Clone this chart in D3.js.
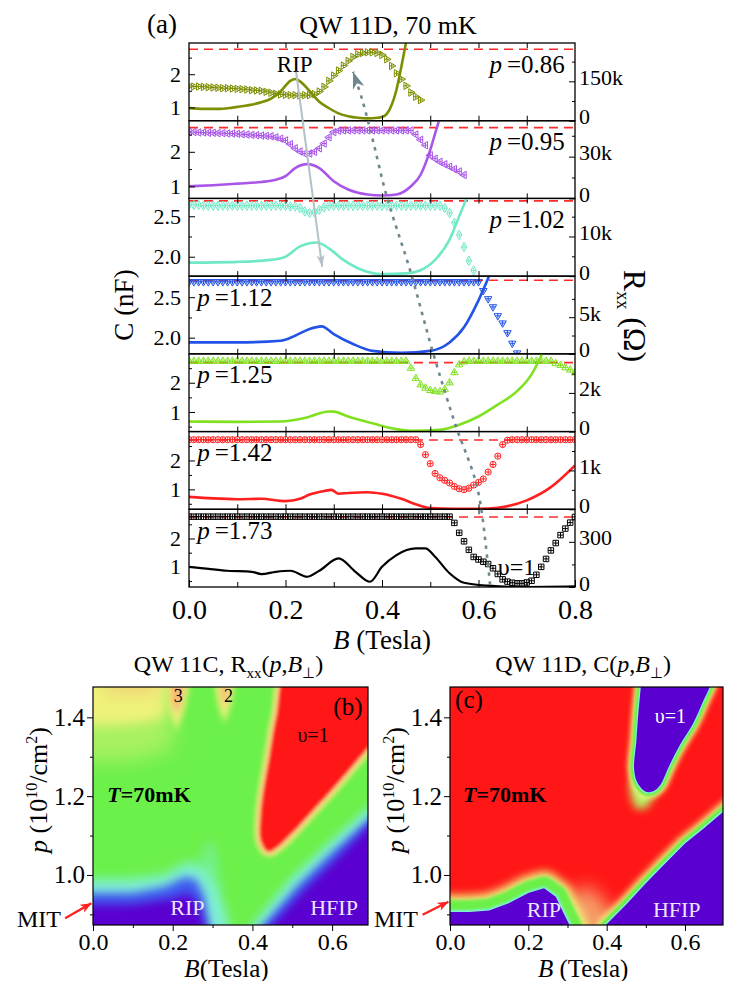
<!DOCTYPE html>
<html>
<head>
<meta charset="utf-8">
<script src="https://cdn.jsdelivr.net/npm/d3@7/dist/d3.min.js"></script>
<style>
  body { margin: 0; background: #fff; }
  svg text { font-family: "Liberation Serif", "Times New Roman", serif; }
</style>
</head>
<body>
<script>
var svgWidth = 731;
var svgHeight = 981;
var serif = "Liberation Serif";

// ---------------- panel (a) data ----------------
var pLabels = ["0.86", "0.95", "1.02", "1.12", "1.25", "1.42", "1.73"];
var colors = ["#7d8e00", "#a855e8", "#6fe8c6", "#2353e6", "#7fe11f", "#ff1f1f", "#000000"];
var symKinds = ["right", "left", "diamond", "down", "up", "circle", "square"];

// left axis C (nF), right axis Rxx (Ohm or kOhm)
var cRange = [[0.6, 2.94], [0.65, 2.9], [1.76, 2.72], [1.80, 2.76], [0.33, 2.99], [0.31, 3.0], [0.29, 3.03]];
var cTicks = [[1, 2], [1, 2], [2.0, 2.5], [2.0, 2.5], [1, 2], [1, 2], [1, 2]];
var cMinor = [[1.5, 2.5], [1.5, 2.5], [2.25], [2.25], [0.5, 1.5, 2.5], [0.5, 1.5, 2.5], [0.5, 1.5, 2.5]];
var cFormat = ["d", "d", ".1f", ".1f", "d", "d", "d"];
var cGeo = [2.75, 2.70, 2.69, 2.71, 2.69, 2.71, 2.76];
var rTop = [296, 55.8, 19.6, 10.6, 4.02, 2.0, 516];
var rTick = [150, 30, 10, 5, 2, 1, 300];
var rTickText = ["150k", "30k", "10k", "5k", "2k", "1k", "300"];
var rMinor = [[75, 225], [15, 45], [5, 15], [2.5, 7.5], [1, 3], [0.5, 1.5], [150, 450]];

// capacitance, one point every 0.01 T starting at B = 0
var cStepB = 0.01;
var c086 = [1.64, 1.63, 1.63, 1.62, 1.61, 1.60, 1.59, 1.58, 1.58, 1.57, 1.56, 1.55, 1.54, 1.52, 1.51, 1.50,
  1.47, 1.44, 1.41, 1.39, 1.38, 1.37, 1.37, 1.36, 1.37, 1.37, 1.40, 1.48, 1.62, 1.80, 1.96, 2.11, 2.26,
  2.40, 2.52, 2.60, 2.64, 2.66, 2.66, 2.64, 2.58, 2.45, 2.25, 2.03, 1.85, 1.65, 1.45, 1.32, 1.22];
var c095 = [2.57, 2.57, 2.56, 2.56, 2.55, 2.55, 2.54, 2.54, 2.53, 2.53, 2.52, 2.51, 2.50, 2.49, 2.48, 2.47,
  2.46, 2.45, 2.42, 2.38, 2.33, 2.22, 2.10, 2.01, 1.95, 1.95, 2.00, 2.10, 2.24, 2.42, 2.57, 2.61,
  2.62, 2.62, 2.62, 2.62, 2.62, 2.62, 2.62, 2.62, 2.62, 2.62, 2.62, 2.62, 2.62, 2.62, 2.62,
  2.50, 2.35, 2.19, 1.90, 1.80, 1.71, 1.64, 1.57, 1.50, 1.43, 1.33];
var c102 = [2.64, 2.64, 2.64, 2.63, 2.63, 2.63, 2.63, 2.63, 2.63, 2.63, 2.63, 2.63, 2.63, 2.63, 2.63, 2.63,
  2.63, 2.63, 2.63, 2.63, 2.63, 2.62, 2.62, 2.60, 2.56, 2.54, 2.55, 2.58, 2.61, 2.63,
  2.63, 2.63, 2.63, 2.63, 2.63, 2.63, 2.63, 2.63, 2.63, 2.63, 2.63, 2.63, 2.63, 2.63, 2.63, 2.63,
  2.63, 2.63, 2.63, 2.63, 2.63, 2.63, 2.63, 2.60, 2.54, 2.42, 2.27, 2.12, 1.95, 1.83];
var c112 = [2.69, 2.69, 2.69, 2.69, 2.69, 2.69, 2.69, 2.69, 2.69, 2.69, 2.69, 2.69, 2.69, 2.69, 2.69, 2.69,
  2.69, 2.69, 2.69, 2.69, 2.69, 2.69, 2.69, 2.69, 2.69, 2.69, 2.69, 2.69, 2.69, 2.69, 2.69, 2.69,
  2.69, 2.69, 2.69, 2.69, 2.69, 2.69, 2.69, 2.69, 2.69, 2.69, 2.69, 2.69, 2.69, 2.69, 2.69, 2.69,
  2.69, 2.69, 2.69, 2.69, 2.69, 2.69, 2.69, 2.69, 2.69, 2.69, 2.69, 2.69, 2.69,
  2.58, 2.48, 2.38, 2.27, 2.18, 2.06, 1.93, 1.81];
var c125 = [2.74, 2.74, 2.74, 2.74, 2.74, 2.74, 2.74, 2.74, 2.74, 2.74, 2.74, 2.74, 2.74, 2.74, 2.74, 2.74,
  2.74, 2.74, 2.74, 2.74, 2.74, 2.74, 2.74, 2.74, 2.74, 2.74, 2.74, 2.74, 2.74, 2.74, 2.74, 2.74,
  2.74, 2.74, 2.74, 2.74, 2.74, 2.74, 2.74, 2.74, 2.74, 2.74, 2.74, 2.74, 2.74, 2.74,
  2.50, 2.15, 1.93, 1.82, 1.74, 1.71, 1.69, 1.77, 2.00, 2.35, 2.62, 2.72,
  2.74, 2.74, 2.74, 2.74, 2.74, 2.74, 2.74, 2.74, 2.74, 2.74, 2.74, 2.74, 2.74, 2.74, 2.74, 2.74, 2.74, 2.74,
  2.66, 2.60, 2.52, 2.44, 2.34];
var c142 = [2.72, 2.72, 2.72, 2.72, 2.72, 2.72, 2.72, 2.72, 2.72, 2.72, 2.72, 2.72, 2.72, 2.72, 2.72, 2.72,
  2.72, 2.72, 2.72, 2.72, 2.72, 2.72, 2.72, 2.72, 2.72, 2.72, 2.72, 2.72, 2.72, 2.72, 2.72, 2.72,
  2.72, 2.72, 2.72, 2.72, 2.72, 2.72, 2.72, 2.72, 2.72, 2.72, 2.72, 2.72, 2.72, 2.72, 2.72, 2.72,
  2.55, 2.20, 1.89, 1.55, 1.40, 1.31, 1.22, 1.10, 1.02, 0.99, 1.04, 1.15, 1.24, 1.36, 1.60, 1.86,
  2.15, 2.55, 2.70, 2.72, 2.72, 2.72, 2.72, 2.72, 2.72, 2.72, 2.72, 2.72, 2.72, 2.72, 2.72, 2.72, 2.72];
var c173 = [2.77, 2.77, 2.77, 2.77, 2.77, 2.77, 2.77, 2.77, 2.77, 2.77, 2.77, 2.77, 2.77, 2.77, 2.77, 2.77,
  2.77, 2.77, 2.77, 2.77, 2.77, 2.77, 2.77, 2.77, 2.77, 2.77, 2.77, 2.77, 2.77, 2.77, 2.77, 2.77,
  2.77, 2.77, 2.77, 2.77, 2.77, 2.77, 2.77, 2.77, 2.77, 2.77, 2.77, 2.77, 2.77, 2.77, 2.77, 2.77,
  2.77, 2.77, 2.77, 2.77, 2.77, 2.77, 2.77,
  2.55, 2.20, 1.90, 1.60, 1.35, 1.26, 1.18, 1.10, 0.95, 0.75, 0.56, 0.48, 0.44, 0.42, 0.42, 0.45,
  0.51, 0.72, 1.00, 1.28, 1.58, 1.84, 2.12, 2.35, 2.56, 2.76];
var cSeries = [c086, c095, c102, c112, c125, c142, c173];

// Rxx traces
var rB086 = [0, 0.03, 0.06, 0.09, 0.12, 0.15, 0.17, 0.19, 0.21, 0.22, 0.23, 0.25, 0.27, 0.29, 0.31, 0.33, 0.35, 0.37, 0.39, 0.40, 0.41, 0.42, 0.43, 0.44, 0.45, 0.46];
var r086 = [48, 45, 45, 50, 58, 70, 84, 112, 152, 159, 150, 113, 72, 48, 28, 17, 11, 9, 11, 14, 26, 60, 118, 205, 300, 400];
var rB095 = [0, 0.05, 0.1, 0.15, 0.18, 0.2, 0.22, 0.245, 0.27, 0.3, 0.33, 0.37, 0.4, 0.43, 0.46, 0.48, 0.5, 0.51, 0.52];
var r095 = [8.7, 9.5, 10.6, 11.8, 13.5, 16, 21.8, 24.6, 21.8, 12.3, 6.4, 2.8, 2.1, 2.8, 8.7, 17, 34.8, 46.6, 58];
var rB102 = [0, 0.1, 0.17, 0.2, 0.23, 0.265, 0.29, 0.32, 0.35, 0.4, 0.45, 0.48, 0.51, 0.54, 0.56, 0.575, 0.58];
var r102 = [3.4, 3.6, 4.1, 4.9, 7.5, 8.5, 7.0, 4.1, 2.0, 0.5, 0.7, 1.5, 4.1, 9.2, 15.1, 19.8, 22];
var rB112 = [0, 0.1, 0.19, 0.22, 0.25, 0.275, 0.3, 0.34, 0.38, 0.44, 0.5, 0.54, 0.57, 0.6, 0.62, 0.63];
var r112 = [1.56, 1.56, 1.79, 2.48, 3.4, 3.75, 2.7, 1.34, 0.41, 0.14, 0.41, 1.56, 3.63, 7.3, 10.3, 12];
var rB125 = [0, 0.1, 0.19, 0.24, 0.29, 0.3, 0.33, 0.38, 0.42, 0.46, 0.52, 0.56, 0.6, 0.64, 0.68, 0.71, 0.73, 0.74];
var r125 = [0.52, 0.5, 0.52, 0.7, 1.04, 1.03, 0.78, 0.43, 0.17, 0.04, 0.09, 0.35, 0.78, 1.39, 2.09, 2.96, 3.92, 4.5];
var rB142 = [0, 0.05, 0.1, 0.15, 0.2, 0.23, 0.25, 0.28, 0.295, 0.31, 0.33, 0.37, 0.4, 0.44, 0.47, 0.5, 0.55, 0.6, 0.64, 0.7, 0.75, 0.8];
var r142 = [0.32, 0.28, 0.26, 0.27, 0.21, 0.27, 0.38, 0.47, 0.5, 0.4, 0.42, 0.44, 0.4, 0.27, 0.13, 0.03, 0.01, 0.01, 0.04, 0.23, 0.57, 1.13];
var rB173 = [0, 0.03, 0.08, 0.13, 0.15, 0.18, 0.21, 0.245, 0.27, 0.31, 0.345, 0.375, 0.4, 0.43, 0.47, 0.49, 0.51, 0.54, 0.57, 0.62, 0.7, 0.8];
var r173 = [134, 124, 108, 101, 86, 101, 108, 68, 108, 190, 101, 35, 134, 212, 256, 256, 201, 91, 28, 9, 0, 4];
var rBSeries = [rB086, rB095, rB102, rB112, rB125, rB142, rB173];
var rSeries = [r086, r095, r102, r112, r125, r142, r173];

// guide arrows, B and position in the stack of panels (0 = top of first panel)
var ripArrowB = [0.222, 0.276];
var ripArrowS = [0.37, 2.88];
var nuArrowB = [0.624, 0.618, 0.597, 0.551, 0.506, 0.458, 0.410, 0.381, 0.359, 0.340];
var nuArrowS = [6.97, 6.62, 5.71, 4.89, 3.99, 2.92, 1.98, 1.25, 0.73, 0.37];

// ---------------- panels (b), (c): level regions (B, p) ----------------
var bHazeB = [-0.1, 0.2, 0.2, 0.1, -0.1], bHazeP = [1.55, 1.55, 1.32, 1.29, 1.29];
var bYellowB = [-0.1, 0.185, 0.18, 0.12, 0.05, -0.1], bYellowP = [1.55, 1.55, 1.40, 1.385, 1.38, 1.38];
var bTintB = [0.02, 0.17, 0.16, 0.03], bTintP = [1.55, 1.55, 1.455, 1.455];
var bLobe3YB = [0.175, 0.255, 0.228, 0.21, 0.192], bLobe3YP = [1.55, 1.55, 1.42, 1.365, 1.42];
var bLobe3OB = [0.19, 0.24, 0.222, 0.21, 0.198], bLobe3OP = [1.55, 1.55, 1.44, 1.405, 1.44];
var bLobe2YB = [0.295, 0.365, 0.345, 0.33, 0.315], bLobe2YP = [1.55, 1.55, 1.43, 1.385, 1.43];
var bLobe2OB = [0.31, 0.352, 0.338, 0.33, 0.322], bLobe2OP = [1.55, 1.55, 1.45, 1.42, 1.45];
var bColB = [0.265, 0.28, 0.305, 0.32, 0.31], bColP = [0.97, 1.08, 1.08, 0.95, 0.9];
var bRipCB = [-0.1, -0.1, 0.1, 0.18, 0.23, 0.265, 0.3, 0.335, 0.35], bRipCP = [0.82, 0.99, 0.99, 1.0, 1.03, 1.03, 0.98, 0.9, 0.82];
var bRipBB = [-0.1, -0.1, 0.1, 0.18, 0.23, 0.258, 0.278, 0.3], bRipBP = [0.82, 0.955, 0.955, 0.97, 0.995, 0.99, 0.95, 0.82];
var bRipPB = [-0.1, -0.1, 0.1, 0.2, 0.24, 0.262, 0.295], bRipPP = [0.82, 0.925, 0.925, 0.94, 0.955, 0.93, 0.82];
var bHfCB = [0.355, 0.5, 0.59, 0.69, 0.8, 0.8], bHfCP = [0.82, 0.995, 1.08, 1.17, 1.25, 0.82];
var bHfBB = [0.38, 0.515, 0.6, 0.69, 0.8, 0.8], bHfBP = [0.82, 0.975, 1.058, 1.14, 1.22, 0.82];
var bHfPB = [0.40, 0.53, 0.61, 0.69, 0.8, 0.8], bHfPP = [0.82, 0.962, 1.04, 1.122, 1.2, 0.82];
var bRedB = [0.503, 0.462, 0.445, 0.428, 0.423, 0.423, 0.44, 0.46, 0.5, 0.55, 0.6, 0.69, 0.8, 0.8];
var bRedP = [1.55, 1.4, 1.3, 1.2, 1.15, 1.09, 1.062, 1.072, 1.11, 1.165, 1.22, 1.326, 1.45, 1.55];

var cGlowB = [0.26, 0.305, 0.35, 0.4, 0.46], cGlowP = [0.82, 0.95, 0.975, 0.93, 0.82];
var cRipB = [-0.1, -0.1, 0.05, 0.1, 0.15, 0.2, 0.24, 0.27, 0.29, 0.305, 0.33];
var cRipP = [0.8, 0.906, 0.906, 0.91, 0.928, 0.954, 0.966, 0.945, 0.903, 0.873, 0.8];
var cHfB = [0.37, 0.398, 0.45, 0.5, 0.55, 0.6, 0.65, 0.697, 0.8, 0.8];
var cHfP = [0.8, 0.873, 0.925, 0.979, 1.03, 1.08, 1.12, 1.16, 1.25, 0.8];
var cNuBlobB = [0.462, 0.475, 0.5, 0.52, 0.5], cNuBlobP = [1.24, 1.17, 1.17, 1.21, 1.23];
var cNuB = [0.495, 0.489, 0.48, 0.476, 0.47, 0.478, 0.5, 0.52, 0.536, 0.561, 0.587, 0.621, 0.646, 0.672, 0.69, 0.6];
var cNuP = [1.6, 1.5, 1.4, 1.342, 1.27, 1.235, 1.211, 1.213, 1.227, 1.28, 1.33, 1.385, 1.44, 1.5, 1.6, 1.65];

var pTicks = [1.0, 1.2, 1.4], pMinor = [0.9, 1.1, 1.3];
var bTicks = [0, 0.2, 0.4, 0.6], bMinor = [0.1, 0.3, 0.5];

// ---------------- drawing ----------------
var svg = d3.select("body").append("svg")
    .attr("width", svgWidth)
    .attr("height", svgHeight);
var defs = svg.append("defs");

var heatColor = d3.scaleLinear()
    .domain([0, 0.2, 0.38, 0.55, 0.72, 0.86, 1])
    .range(["#5a06d0", "#3c5cf0", "#80f0d8", "#6cf04a", "#eef27a", "#f4b474", "#ff1616"]);

function blur(s) {
    var id = "blur" + String(s).replace(".", "_");
    if (defs.select("#" + id).empty()) {
        defs.append("filter").attr("id", id)
            .attr("filterUnits", "userSpaceOnUse")
            .attr("x", 0).attr("y", 600).attr("width", svgWidth).attr("height", 381)
            .append("feGaussianBlur").attr("stdDeviation", s);
    }
    return "url(#" + id + ")";
}

function marker(id, color, w, h) {
    defs.append("marker").attr("id", id)
        .attr("viewBox", "0 0 " + w + " " + h)
        .attr("refX", w).attr("refY", h / 2)
        .attr("markerWidth", w).attr("markerHeight", h)
        .attr("markerUnits", "userSpaceOnUse")
        .attr("orient", "auto")
        .append("path")
        .attr("d", "M0,0L" + w + "," + (h / 2) + "L0," + h + "L" + (w * 0.28) + "," + (h / 2) + "Z")
        .attr("fill", color);
}
marker("headGrey", "#6f8790", 17, 12);
marker("headLight", "#b4c2c8", 12, 8);
marker("headRed", "#ff2020", 11, 9);

function tidy(sel, size) {
    sel.select(".domain").remove();
    sel.attr("font-family", serif).attr("font-size", size);
    sel.selectAll("line").attr("stroke", "#000").attr("stroke-width", 1);
    sel.selectAll("text").attr("fill", "#000");
    return sel;
}

// ----- panel (a) -----
var xA = d3.scaleLinear().domain([0, 0.8]).range([189, 575]);
var stackY = d3.scaleLinear().domain([0, 7]).range([43, 587]);

var shapes = {
    right: [d3.symbolTriangle, 90, 24], left: [d3.symbolTriangle, -90, 24],
    down: [d3.symbolTriangle, 180, 24], up: [d3.symbolTriangle, 0, 24],
    diamond: [d3.symbolDiamond, 0, 26], circle: [d3.symbolCircle, 0, 30], square: [d3.symbolSquare, 0, 30]
};

pLabels.forEach(function(pl, i) {
    var top = stackY(i), bot = stackY(i + 1);
    var yC = d3.scaleLinear().domain(cRange[i]).range([bot, top]);
    var yR = d3.scaleLinear().domain([0, rTop[i]]).range([bot, top]);

    defs.append("clipPath").attr("id", "clipA" + i)
        .append("rect")
        .attr("x", xA(0)).attr("y", top)
        .attr("width", xA(0.8) - xA(0)).attr("height", bot - top);

    var inner = svg.append("g").attr("clip-path", "url(#clipA" + i + ")");

    // geometric capacitance level
    inner.append("line")
        .attr("x1", xA(0)).attr("x2", xA(0.8))
        .attr("y1", yC(cGeo[i])).attr("y2", yC(cGeo[i]))
        .attr("stroke", "#ff2a2a").attr("stroke-width", 1.6)
        .attr("stroke-dasharray", "9,6");

    // Rxx trace
    inner.append("path")
        .datum(d3.zip(rBSeries[i], rSeries[i]))
        .attr("d", d3.line()
            .x(d => xA(d[0]))
            .y(d => yR(d[1]))
            .curve(d3.curveMonotoneX))
        .attr("fill", "none")
        .attr("stroke", colors[i])
        .attr("stroke-width", i === 6 ? 2.2 : 2.6);

    // C symbols
    var sh = shapes[symKinds[i]];
    var symD = d3.symbol().type(sh[0]).size(sh[2])();
    var pts = inner.selectAll("g.pt")
        .data(cSeries[i])
        .enter()
        .append("g")
        .attr("transform", (d, k) => `translate(${xA(k * cStepB)},${yC(d)}) rotate(${sh[1]})`);
    pts.append("path").attr("d", symD)
        .attr("fill", "none").attr("stroke", colors[i]).attr("stroke-width", 1);
    pts.append("path").attr("d", "M-2.5,0H2.5M0,-2.5V2.5")
        .attr("stroke", colors[i]).attr("stroke-width", 1);

    // frame and axes
    svg.append("rect")
        .attr("x", xA(0)).attr("y", top)
        .attr("width", xA(0.8) - xA(0)).attr("height", bot - top)
        .attr("fill", "none").attr("stroke", "#000").attr("stroke-width", 1.3);

    tidy(svg.append("g").attr("transform", `translate(${xA(0)},0)`)
        .call(d3.axisLeft(yC).tickValues(cTicks[i]).tickSize(-6).tickPadding(8)
            .tickFormat(d3.format(cFormat[i]))), 22);
    tidy(svg.append("g").attr("transform", `translate(${xA(0)},0)`)
        .call(d3.axisLeft(yC).tickValues(cMinor[i].filter(v => v > cRange[i][0] && v < cRange[i][1]))
            .tickSize(-3).tickFormat("")), 22);
    var ra = tidy(svg.append("g").attr("transform", `translate(${xA(0.8)},0)`)
        .call(d3.axisRight(yR).tickValues([0, rTick[i]]).tickSize(-6).tickPadding(4)
            .tickFormat(d => d === 0 ? "0" : rTickText[i])), 22);
    ra.selectAll("text").attr("y", -4);
    tidy(svg.append("g").attr("transform", `translate(${xA(0.8)},0)`)
        .call(d3.axisRight(yR).tickValues(rMinor[i].filter(v => v < rTop[i]))
            .tickSize(-3).tickFormat("")), 22);
    tidy(svg.append("g").attr("transform", `translate(0,${top})`)
        .call(d3.axisTop(xA).tickValues(d3.range(1, 8).map(k => k / 10)).tickSize(-5).tickFormat("")), 22);
    if (i < 6) {
        tidy(svg.append("g").attr("transform", `translate(0,${bot})`)
            .call(d3.axisBottom(xA).tickValues(d3.range(1, 8).map(k => k / 10)).tickSize(-5).tickFormat("")), 22);
    } else {
        tidy(svg.append("g").attr("transform", `translate(0,${bot})`)
            .call(d3.axisBottom(xA).tickValues([0, 0.2, 0.4, 0.6, 0.8]).tickSize(-7).tickPadding(12)
                .tickFormat(d3.format(".1f"))), 28);
        tidy(svg.append("g").attr("transform", `translate(0,${bot})`)
            .call(d3.axisBottom(xA).tickValues([0.1, 0.3, 0.5, 0.7]).tickSize(-5).tickFormat("")), 28);
    }

    // density label
    var right = i < 3;
    var t = svg.append("text")
        .attr("x", right ? xA(0.779) : xA(0.017))
        .attr("y", stackY(i + 0.38))
        .attr("text-anchor", right ? "end" : "start")
        .attr("font-size", 25);
    t.append("tspan").attr("font-style", "italic").text("p");
    t.append("tspan").text("\u2009=" + pl);
});

// panel (a) labels
svg.append("text").attr("x", 147).attr("y", 33).attr("font-size", 27).text("(a)");
svg.append("text").attr("x", 388).attr("y", 34).attr("font-size", 26)
    .attr("text-anchor", "middle").text("QW 11D, 70 mK");
svg.append("text").attr("x", xA(0.182)).attr("y", stackY(0.37)).attr("font-size", 23).text("RIP");
svg.append("text").attr("x", xA(0.64)).attr("y", stackY(6.84)).attr("font-size", 24).text("\u03c5=1");

svg.append("text")
    .attr("transform", "translate(133,305) rotate(-90)")
    .attr("text-anchor", "middle").attr("font-size", 27)
    .text("C (nF)");
var rl = svg.append("text")
    .attr("transform", "translate(624,316) rotate(90)")
    .attr("text-anchor", "middle").attr("font-size", 32);
rl.append("tspan").text("R");
rl.append("tspan").attr("font-size", 18).attr("dy", 7).text("xx");
rl.append("tspan").attr("dy", -7).text(" (\u03a9)");

var bl = svg.append("text").attr("x", 382).attr("y", 649)
    .attr("text-anchor", "middle").attr("font-size", 27);
bl.append("tspan").attr("font-style", "italic").text("B");
bl.append("tspan").text(" (Tesla)");

// guide arrows
var stackLine = d3.line().x(d => xA(d[0])).y(d => stackY(d[1]));
svg.append("path")
    .datum(d3.zip(ripArrowB, ripArrowS))
    .attr("d", stackLine)
    .attr("fill", "none").attr("stroke", "#b4c2c8").attr("stroke-width", 2)
    .attr("marker-end", "url(#headLight)");
svg.append("path")
    .datum(d3.zip(nuArrowB, nuArrowS))
    .attr("d", stackLine.curve(d3.curveCatmullRom))
    .attr("fill", "none").attr("stroke", "#6f8790").attr("stroke-width", 2.6)
    .attr("stroke-dasharray", "3.5,5.5")
    .attr("marker-end", "url(#headGrey)");

// ----- panels (b) and (c) -----
function heatPanel(cfg) {
    var x = d3.scaleLinear().domain(cfg.bDom).range([cfg.x0, cfg.x1]);
    var y = d3.scaleLinear().domain([0.873, 1.477]).range([925, 687]);
    var id = "clip" + cfg.name;
    defs.append("clipPath").attr("id", id).append("rect")
        .attr("x", cfg.x0).attr("y", 687).attr("width", cfg.x1 - cfg.x0).attr("height", 238);
    var g = svg.append("g").attr("clip-path", "url(#" + id + ")");
    g.append("rect")
        .attr("x", cfg.x0 - 5).attr("y", 680).attr("width", cfg.x1 - cfg.x0 + 10).attr("height", 250)
        .attr("fill", heatColor(cfg.bgLevel));

    cfg.layers.forEach(function(L) {
        var line = d3.line().x(d => x(d[0])).y(d => y(d[1]))
            .curve(L.smooth ? d3.curveCatmullRomClosed.alpha(0.5) : d3.curveLinearClosed);
        var d = line(d3.zip(L.b, L.p));
        (L.halo || []).forEach(function(h) {
            g.append("path").attr("d", d)
                .attr("fill", "none")
                .attr("stroke", heatColor(h[0])).attr("stroke-width", h[1])
                .attr("stroke-linejoin", "round")
                .attr("filter", blur(h[2]));
        });
        g.append("path").attr("d", d)
            .attr("fill", heatColor(L.level))
            .attr("opacity", L.op || 1)
            .attr("filter", blur(L.blur));
    });

    svg.append("rect")
        .attr("x", cfg.x0).attr("y", 687).attr("width", cfg.x1 - cfg.x0).attr("height", 238)
        .attr("fill", "none").attr("stroke", "#000").attr("stroke-width", 1.2);

    tidy(svg.append("g").attr("transform", `translate(${cfg.x0},0)`)
        .call(d3.axisLeft(y).tickValues(pTicks).tickSize(6).tickPadding(2).tickFormat(d3.format(".1f"))), 25);
    tidy(svg.append("g").attr("transform", `translate(${cfg.x0},0)`)
        .call(d3.axisLeft(y).tickValues(pMinor).tickSize(3).tickFormat("")), 25);
    tidy(svg.append("g").attr("transform", "translate(0,925)")
        .call(d3.axisBottom(x).tickValues(bTicks).tickSize(6).tickPadding(2).tickFormat(d3.format(".1f"))), 24);
    tidy(svg.append("g").attr("transform", "translate(0,925)")
        .call(d3.axisBottom(x).tickValues(bMinor).tickSize(3).tickFormat("")), 24);

    // axis titles
    var yl = svg.append("text")
        .attr("transform", `translate(${cfg.x0 - 46},790) rotate(-90)`)
        .attr("text-anchor", "middle").attr("font-size", 26);
    yl.append("tspan").attr("font-style", "italic").text("p");
    yl.append("tspan").text(" (10");
    yl.append("tspan").attr("font-size", 16).attr("dy", -10).text("10");
    yl.append("tspan").attr("dy", 10).text("/cm");
    yl.append("tspan").attr("font-size", 16).attr("dy", -10).text("2");
    yl.append("tspan").attr("dy", 10).text(")");

    var xl = svg.append("text").attr("x", x(cfg.xLabelB)).attr("y", 977)
        .attr("text-anchor", "middle").attr("font-size", 25);
    xl.append("tspan").attr("font-style", "italic").text("B");
    xl.append("tspan").text(cfg.xLabelGap + "(Tesla)");

    // title
    var tt = svg.append("text").attr("x", x(cfg.titleB)).attr("y", 672)
        .attr("text-anchor", "middle").attr("font-size", 24);
    tt.append("tspan").text(cfg.titleHead);
    if (cfg.titleSub) {
        tt.append("tspan").attr("font-size", 15).attr("dy", 6).text(cfg.titleSub);
        tt.append("tspan").attr("dy", -6).text("(");
    } else {
        tt.append("tspan").text("(");
    }
    tt.append("tspan").attr("font-style", "italic").text("p");
    tt.append("tspan").text(",");
    tt.append("tspan").attr("font-style", "italic").text("B");
    tt.append("tspan").attr("font-size", 15).attr("dy", 6).text("\u22a5");
    tt.append("tspan").attr("dy", -6).text(")");

    // annotations
    var lab = function(b, p, s, size, color, anchor) {
        return svg.append("text").attr("x", x(b)).attr("y", y(p))
            .attr("font-size", size).attr("fill", color)
            .attr("text-anchor", anchor || "start").text(s);
    };
    lab(cfg.tagB, cfg.tagP, cfg.tag, 25, "#000");
    lab(cfg.nuB, cfg.nuP, "\u03c5=1", 20, cfg.nuColor);
    var tl = svg.append("text").attr("x", x(cfg.tB)).attr("y", y(1.185))
        .attr("font-size", 22).attr("font-weight", "bold");
    tl.append("tspan").attr("font-style", "italic").text("T");
    tl.append("tspan").text("=70mK");
    lab(cfg.ripB, cfg.phP, "RIP", 22, "#ece6ff");
    lab(cfg.hfB, cfg.phP, "HFIP", 22, "#ece6ff");
    (cfg.extra || []).forEach(e => lab(e[0], e[1], e[2], 18, "#000", "middle"));

    svg.append("text").attr("x", cfg.x0 - 76).attr("y", 927).attr("font-size", 24).text("MIT");
    svg.append("path")
        .datum([[-0.07, cfg.mitP[0]], [-0.004, cfg.mitP[1]]])
        .attr("d", d3.line().x(d => x(d[0])).y(d => y(d[1])))
        .attr("stroke", "#ff2020").attr("stroke-width", 2.2)
        .attr("marker-end", "url(#headRed)");
}

heatPanel({
    name: "B", x0: 93, x1: 368, bDom: [0, 0.69], bgLevel: 0.55,
    layers: [
        { b: bHazeB, p: bHazeP, level: 0.63, blur: 10 },
        { b: bYellowB, p: bYellowP, level: 0.72, blur: 6 },
        { b: bTintB, p: bTintP, level: 0.8, blur: 7, op: 0.7 },
        { b: bLobe3YB, p: bLobe3YP, level: 0.72, blur: 3 },
        { b: bLobe3OB, p: bLobe3OP, level: 0.86, blur: 3 },
        { b: bLobe2YB, p: bLobe2YP, level: 0.72, blur: 3 },
        { b: bLobe2OB, p: bLobe2OP, level: 0.84, blur: 3 },
        { b: bColB, p: bColP, level: 0.45, blur: 6, op: 0.85 },
        { b: bRipCB, p: bRipCP, level: 0.38, blur: 6 },
        { b: bRipBB, p: bRipBP, level: 0.2, blur: 5 },
        { b: bRipPB, p: bRipPP, level: 0, blur: 5 },
        { b: bHfCB, p: bHfCP, level: 0.38, blur: 5 },
        { b: bHfBB, p: bHfBP, level: 0.2, blur: 4 },
        { b: bHfPB, p: bHfPP, level: 0, blur: 4 },
        { b: bRedB, p: bRedP, level: 1, blur: 1.5, smooth: true, halo: [[0.72, 12, 2.5], [0.86, 7, 2]] }
    ],
    xLabelB: 0.335, xLabelGap: "", titleB: 0.34, titleHead: "QW 11C, R", titleSub: "xx",
    tag: "(b)", tagB: 0.603, tagP: 1.405,
    nuB: 0.513, nuP: 1.337, nuColor: "#220000", tB: 0.036,
    ripB: 0.194, hfB: 0.545, phP: 0.899,
    extra: [[0.214, 1.438, "3"], [0.34, 1.438, "2"]],
    mitP: [0.89, 0.928]
});

heatPanel({
    name: "C", x0: 450, x1: 723, bDom: [0, 0.697], bgLevel: 1,
    layers: [
        { b: cGlowB, p: cGlowP, level: 0.86, blur: 9, op: 0.85 },
        { b: cRipB, p: cRipP, level: 0, blur: 0.6,
          halo: [[0.72, 34, 4], [0.55, 24, 1.5], [0.38, 4, 0.8]] },
        { b: cHfB, p: cHfP, level: 0, blur: 0.6,
          halo: [[0.72, 16, 3], [0.55, 10, 1.2], [0.38, 3, 0.6]] },
        { b: cNuBlobB, p: cNuBlobP, level: 0.65, blur: 4, smooth: true },
        { b: cNuB, p: cNuP, level: 0, blur: 0.6, smooth: true,
          halo: [[0.72, 13, 2.5], [0.55, 8, 1], [0.38, 2.5, 0.5]] }
    ],
    xLabelB: 0.34, xLabelGap: " ", titleB: 0.34, titleHead: "QW 11D, C", titleSub: null,
    tag: "(c)", tagB: 0.013, tagP: 1.423,
    nuB: 0.523, nuP: 1.385, nuColor: "#ffffff", tB: 0.033,
    ripB: 0.196, hfB: 0.518, phP: 0.894,
    mitP: [0.899, 0.932]
});
</script>
</body>
</html>
